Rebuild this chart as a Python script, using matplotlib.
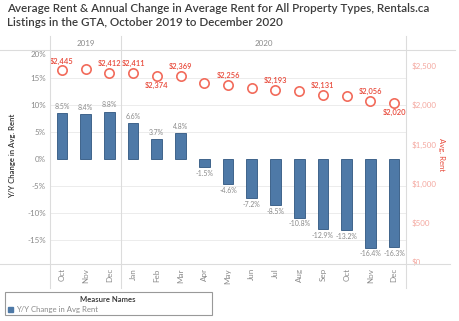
import matplotlib.pyplot as plt
import numpy as np

plt.rcParams['font.family'] = ['Lato', 'DejaVu Sans']

months = ["Oct", "Nov", "Dec", "Jan", "Feb", "Mar", "Apr", "May", "Jun",
          "Jul", "Aug", "Sep", "Oct", "Nov", "Dec"]
yoy_change = [8.5, 8.4, 8.8, 6.6, 3.7, 4.8, -1.5, -4.6, -7.2, -8.5, -10.8,
              -12.9, -13.2, -16.4, -16.3]
avg_rent = [2445, 2460, 2412, 2411, 2374, 2369, 2283, 2256, 2220, 2193, 2180,
            2131, 2117, 2056, 2020]
# which rent points carry a label, and where (1 above, -1 below, 0 none)
rent_label_pos = [1, 0, 1, 1, -1, 1, 0, 1, 0, 1, 0, 1, 0, 1, -1]
pct_ticks = [-15, -10, -5, 0, 5, 10, 15, 20]
rent_ticks = [0, 500, 1000, 1500, 2000, 2500]

BLUE = "#4e79a7"
RED = "#f26b5b"
REDTXT = "#e8493a"
GREY = "#8a8a8a"

W, H = 460, 321
fig = plt.figure(figsize=(W / 100, H / 100), dpi=100)

def fx(px):
    return px / W

def fy(py):
    return 1 - py / H

L, R, T, B = 50, 406, 50, 264
ax = fig.add_axes([fx(L), fy(B), fx(R - L), (B - T) / H])
x = np.arange(len(months))

ax.bar(x, yoy_change, width=0.45, color=BLUE, edgecolor="#2f5680", linewidth=0.6, zorder=3)
ax.set_xlim(-0.5, len(months) - 0.5)
ax.set_ylim(-19.4, 20.2)
ax.set_yticks(pct_ticks)
ax.set_yticklabels([f"{t}%" for t in pct_ticks], fontsize=5.8, color=GREY)
ax.get_yticklabels()[-1].set_verticalalignment("top")
for t in pct_ticks:
    if t not in (0, 20):
        ax.axhline(t, color="#ececec", lw=0.7, zorder=0)
ax.tick_params(axis="y", length=0, pad=3)
ax.set_xticks(x)
ax.set_xticklabels(months, rotation=90, fontsize=5.8, color=GREY)
ax.tick_params(axis="x", length=0, pad=3)
for s in ax.spines.values():
    s.set_visible(False)
fig.text(fx(13), fy(156), "Y/Y Change in Avg. Rent", rotation=90, ha="center", va="center",
         fontsize=5.6, color="#333333", fontweight="semibold")

for xi, v in zip(x, yoy_change):
    if v >= 0:
        ax.text(xi, v + 0.6, f"{v:.1f}%", ha="center", va="bottom", fontsize=5.0, color=GREY)
    else:
        ax.text(xi, v - 0.5, f"{v:.1f}%", ha="center", va="top", fontsize=5.0, color=GREY)

ax2 = ax.twinx()
ax2.set_ylim(-25, 2700)
ax2.scatter(x, avg_rent, s=45, facecolors="white", edgecolors=RED, linewidths=1.2, zorder=4)
for xi, v, p in zip(x, avg_rent, rent_label_pos):
    if p == 1:
        ax2.text(xi, v + 70, f"${v:,}", ha="center", va="bottom", fontsize=5.4,
                 color=REDTXT, fontweight="semibold")
    elif p == -1:
        ax2.text(xi, v - 75, f"${v:,}", ha="center", va="top", fontsize=5.4,
                 color=REDTXT, fontweight="semibold")
ax2.set_yticks(rent_ticks)
ax2.set_yticklabels([f"${t:,}" for t in rent_ticks], fontsize=5.8, color="#f4a8a0")
ax2.tick_params(axis="y", length=0, pad=4)
for s in ax2.spines.values():
    s.set_visible(False)
fig.text(fx(442), fy(155), "Avg. Rent", rotation=270, ha="center", va="center",
         fontsize=5.6, color=REDTXT)

# table-like frame lines
line_kw = dict(color="#dcdcdc", lw=0.8, transform=fig.transFigure)
fig.add_artist(plt.Line2D([0, fx(455)], [fy(50), fy(50)], **line_kw))
fig.add_artist(plt.Line2D([0, fx(450)], [fy(264), fy(264)], **line_kw))
for px in (L, L + 3 * (R - L) / 15, R):
    fig.add_artist(plt.Line2D([fx(px), fx(px)], [fy(36), fy(288)], **line_kw))
fig.text(fx(L + 1.5 * (R - L) / 15), fy(43), "2019", ha="center", va="center", fontsize=5.8, color=GREY)
fig.text(fx(L + 9 * (R - L) / 15), fy(43), "2020", ha="center", va="center", fontsize=5.8, color=GREY)

fig.text(fx(7), fy(3), "Average Rent & Annual Change in Average Rent for All Property Types, Rentals.ca\n"
         "Listings in the GTA, October 2019 to December 2020",
         ha="left", va="top", fontsize=8.4, color="#3c3c3c", fontweight="semibold",
         linespacing=1.3)

# legend box
fig.add_artist(plt.Rectangle((fx(5), fy(315)), fx(207), (315 - 292) / H, fill=False,
                             edgecolor="#999999", lw=0.8, transform=fig.transFigure))
fig.text(fx(108), fy(299), "Measure Names", ha="center", va="center", fontsize=5.6,
         color="#333333", fontweight="semibold")
fig.add_artist(plt.Rectangle((fx(8), fy(312)), fx(5), 5 / H, color=BLUE, transform=fig.transFigure))
fig.text(fx(16), fy(309.5), "Y/Y Change in Avg Rent", ha="left", va="center", fontsize=5.6, color=GREY)

fig.savefig("out.png", dpi=100)
